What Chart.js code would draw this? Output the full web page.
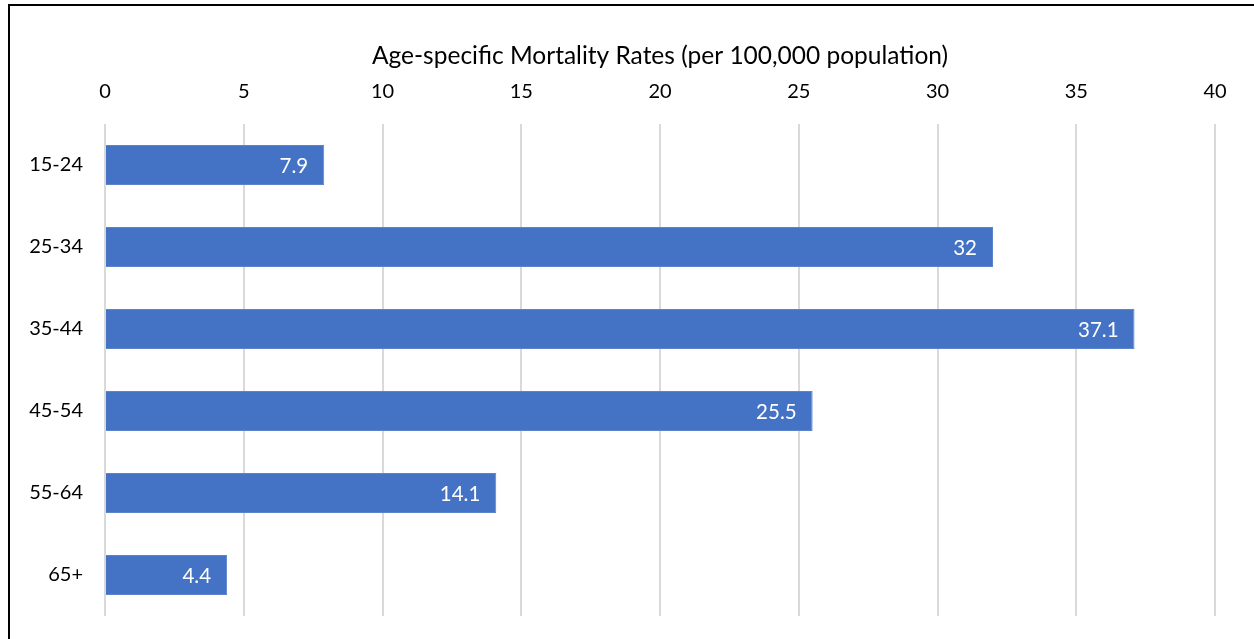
<!DOCTYPE html>
<html>
<head>
<meta charset="utf-8">
<script src="https://cdn.jsdelivr.net/npm/chart.js@4/dist/chart.umd.min.js"></script>
<style>
  html, body { margin: 0; padding: 0; background: #fff; overflow: hidden; }
  body { width: 1254px; height: 639px; position: relative; }
  #frame { position: absolute; left: 8px; top: 4px; width: 1300px; height: 700px;
           border-left: 2px solid #000; border-top: 2px solid #000; }
  #wrap { position: absolute; left: 0; top: 0; width: 1254px; height: 639px; }
</style>
</head>
<body>
<div id="frame"></div>
<div id="wrap"><canvas id="c"></canvas></div>
<script>
const ageGroups = ['15-24', '25-34', '35-44', '45-54', '55-64', '65+'];
const mortalityRates = [7.9, 32, 37.1, 25.5, 14.1, 4.4];
const axisTitle = 'Age-specific Mortality Rates (per 100,000 population)';
const FONT = 'Lato, "Open Sans", sans-serif';

// white value labels placed just inside the end of each bar
const valueLabels = {
  id: 'valueLabels',
  afterDatasetsDraw(chart) {
    const ctx = chart.ctx;
    const meta = chart.getDatasetMeta(0);
    ctx.save();
    ctx.fillStyle = '#ffffff';
    ctx.font = '20.5px ' + FONT;
    ctx.textAlign = 'right';
    ctx.textBaseline = 'middle';
    meta.data.forEach((bar, i) => {
      ctx.fillText(String(mortalityRates[i]), bar.x - 16, bar.y + 1);
    });
    ctx.restore();
  }
};

new Chart(document.getElementById('c'), {
  type: 'bar',
  data: {
    labels: ageGroups,
    datasets: [{
      data: mortalityRates,
      backgroundColor: '#4472C4',
      borderColor: '#5b84cc',
      borderWidth: 1,
      barPercentage: 0.49,
      categoryPercentage: 1.0
    }]
  },
  options: {
    indexAxis: 'y',
    responsive: true,
    maintainAspectRatio: false,
    animation: false,
    layout: { padding: { left: 0, right: 39, top: 0, bottom: 23 } },
    plugins: { legend: { display: false }, tooltip: { enabled: false } },
    scales: {
      x: {
        position: 'top',
        min: 0, max: 40,
        ticks: { stepSize: 5, autoSkip: false, maxRotation: 0, color: '#000', padding: 20, font: { family: FONT, size: 20 } },
        grid: { color: '#d9d9d9', lineWidth: 2, drawTicks: false },
        border: { display: false },
        title: { display: true, text: axisTitle, color: '#000',
                 font: { family: FONT, size: 24.5 }, padding: { top: 41, bottom: 4 } },
        afterFit(scale) { scale.height = 124; }
      },
      y: {
        ticks: { color: '#000', padding: 22, font: { family: FONT, size: 20 } },
        grid: { display: false, drawTicks: false },
        border: { display: false },
        afterFit(scale) {
          scale.width = 105;
          // the category labels sit inside the plot band, so no extra vertical overhang
          scale.paddingTop = 0;
          scale.paddingBottom = 0;
        }
      }
    }
  },
  plugins: [valueLabels]
});
</script>
</body>
</html>
